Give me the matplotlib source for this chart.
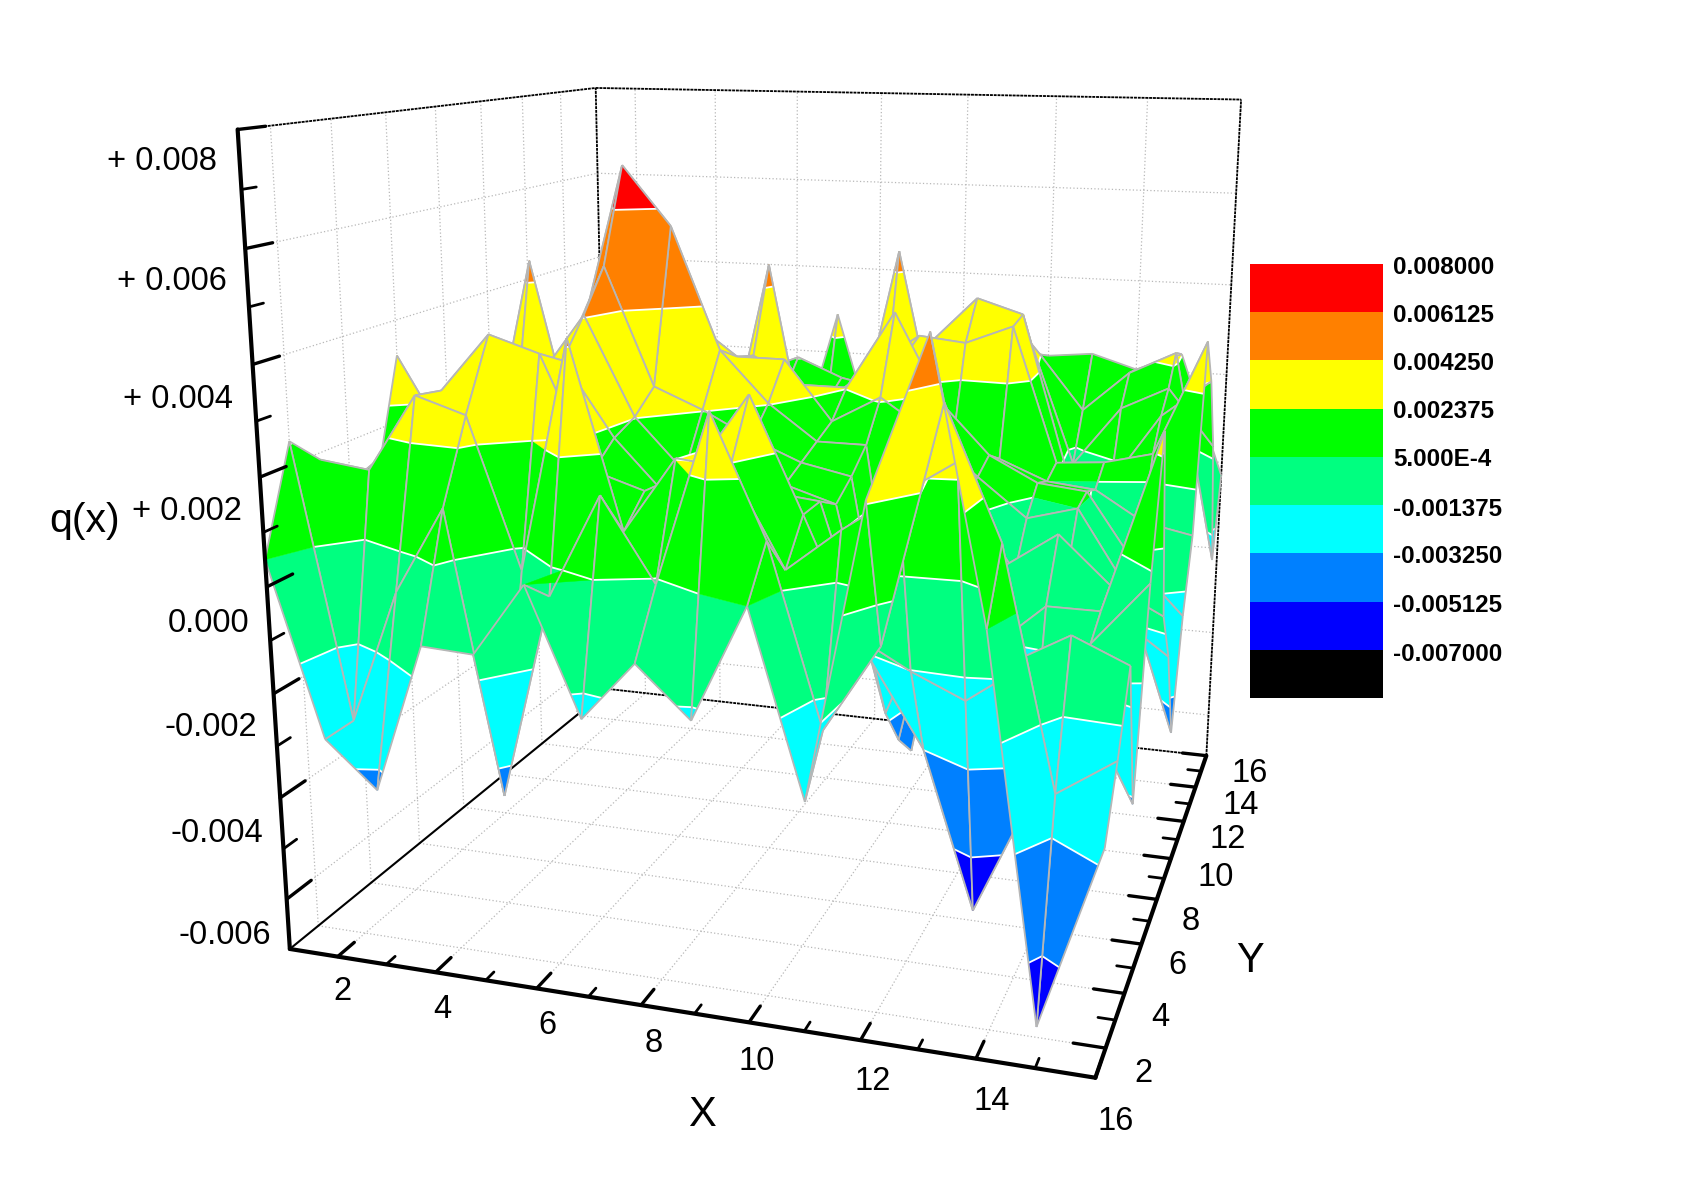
import numpy as np
import matplotlib
matplotlib.use('Agg')
import matplotlib.pyplot as plt
from mpl_toolkits.mplot3d import proj3d
from mpl_toolkits.mplot3d.art3d import Poly3DCollection, Line3DCollection

plt.rcParams['font.family'] = ['Liberation Sans', 'DejaVu Sans']

# q(x) on the 16 x 16 grid, in units of 0.001, one row per Y = 1..16
q_rows = [
    [0.5, -2.75, -3.6, -0.8, -0.85, 0.5, -1.8, -0.7, -1.6, 0.5, -2.8, 2.45, 5.2, 0.5, -6.25, -2.95],
    [2.43, -2.75, -0.2, 1.43, -3.85, 0.0, 1.9, 0.4, 3.5, 1.35, -1.9, -0.3, 3.9, 1.65, -2.55, -1.85],
    [1.87, 1.75, 3.2, 2.9, 0.1, 4.4, 1.0, 2.4, 2.3, 0.56, 1.36, 2.05, 2.7, -0.7, -0.12, -0.55],
    [1.2, 2.0, 3.1, 4.2, 3.9, 1.8, 1.5, 2.0, 3.4, 1.3, -0.86, -1.4, -1.84, -1.1, -1.5, -3.4],
    [1.0, 2.0, 2.8, 3.2, 3.6, 2.2, 1.2, 1.6, 1.4, 1.3, -1.65, -3.23, -6.3, -4.0, -0.9, 0.3],
    [3.3, 1.7, 2.6, 3.0, 4.3, 2.4, 1.4, 1.6, 1.3, 1.0, -3.0, -0.5, -1.5, -0.6, -0.6, 2.8],
    [1.2, 1.9, 2.4, 3.0, 5.1, 2.8, 2.4, 1.9, 1.5, 1.3, -3.9, 0.6, -0.2, 0.5, -0.4, -0.9],
    [1.4, 2.0, 2.6, 3.4, 6.95, 5.8, 3.4, 2.4, 1.7, 1.7, -4.5, 0.8, -0.6, -0.6, -1.3, -2.0],
    [1.6, 1.0, 2.8, 3.4, 4.0, 3.8, 3.1, 3.1, 1.9, 2.45, 1.8, 0.98, 0.22, 0.5, -1.0, -3.9],
    [0.6, 4.7, 0.8, 2.9, 3.0, 2.7, 2.95, 2.4, 2.4, 4.0, 2.2, 1.2, 0.7, 0.6, -0.8, -1.8],
    [1.8, 1.0, 2.4, 2.5, 2.6, 0.4, 4.7, 0.0, 2.0, 3.0, 1.1, 0.9, 0.5, 0.4, -0.2, -0.4],
    [1.8, 2.1, 2.2, 2.4, 2.2, 2.1, 1.8, 1.7, 2.5, 3.2, 3.1, 3.5, 0.67, 0.75, 1.0, 3.4],
    [1.6, 1.9, 2.0, 2.1, 2.0, 2.0, 2.4, 2.0, 1.8, 2.9, 3.9, 3.6, 0.4, 0.1, 1.6, 2.4],
    [1.5, 1.7, 1.8, 1.9, 1.9, 1.9, 1.6, 0.3, 4.7, 0.5, 3.0, 2.8, 0.2, 1.5, 2.0, 0.8],
    [1.4, 1.5, 1.6, 1.7, 1.7, 1.4, 0.5, 1.2, 1.0, 2.0, 2.5, 2.4, 1.2, 2.1, 2.6, -2.0],
    [1.2, 1.3, 1.5, 1.5, 1.6, -0.5, 2.9, -0.3, 1.9, 2.0, 2.1, 2.2, 2.3, 2.0, 2.4, -0.3],
]
levels = [-0.007, -0.005125, -0.00325, -0.001375, 0.0005, 0.002375, 0.00425, 0.006125, 0.008]
level_labels = ['0.008000', '0.006125', '0.004250', '0.002375', '5.000E-4',
                '-0.001375', '-0.003250', '-0.005125', '-0.007000']
band_colors = ['#0000ff', '#0080ff', '#00ffff', '#00ff80', '#00ff00', '#ffff00', '#ff8000', '#ff0000']
legend_colors = ['#ff0000', '#ff8000', '#ffff00', '#00ff00', '#00ff80', '#00ffff', '#0080ff', '#0000ff', '#000000']
z_ticks = [0.008, 0.006, 0.004, 0.002, 0.0, -0.002, -0.004, -0.006]
z_tick_labels = ['+ 0.008', '+ 0.006', '+ 0.004', '+ 0.002', '0.000', '-0.002', '-0.004', '-0.006']
xy_tick_labels = ['2', '4', '6', '8', '10', '12', '14', '16']

Q = np.array(q_rows) * 1e-3
xs = np.arange(1, 17)
ys = np.arange(1, 17)
zmin, zmax = -0.007, 0.008

fig = plt.figure(figsize=(16.96, 12), dpi=100)
ax = fig.add_axes([0.4623 - 0.5 * 1200 / 1696, 0.5755 - 0.5, 1200 / 1696, 1.0], projection='3d')
ax.set_xlim(1, 16, view_margin=0)
ax.set_ylim(1, 16, view_margin=0)
ax.set_zlim(zmin, zmax, view_margin=0)
ax.set_proj_type('persp', focal_length=0.3151)
ax.view_init(elev=13.9602, azim=-72.3497, roll=-0.1090)
ax.set_box_aspect((1, 1.0100, 0.9991), zoom=1.0543)
ax.set_axis_off()
ax.computed_zorder = False
ax.M = ax.get_proj()


def line(p, q, z=1, **kw):
    ax.plot([p[0], q[0]], [p[1], q[1]], [p[2], q[2]], zorder=z, solid_capstyle='round', **kw)


# dotted grid on the floor and the two back walls
grid = dict(color='#b8b8b8', lw=0.9, linestyle=(0, (1, 1.8)))
for v in range(2, 17, 2):
    line((v, 1, zmin), (v, 16, zmin), **grid)
    line((1, v, zmin), (16, v, zmin), **grid)
    line((v, 16, zmin), (v, 16, zmax), **grid)
    line((1, v, zmin), (1, v, zmax), **grid)
for t in z_ticks:
    line((1, 1, t), (1, 16, t), **grid)
    line((1, 16, t), (16, 16, t), **grid)

# thin box edges at the back
back = dict(color='black', lw=1.3, linestyle=(0, (1.6, 0.5)))
line((1, 16, zmin), (16, 16, zmin), **back)
line((1, 16, zmin), (1, 16, zmax), **back)
line((16, 16, zmin), (16, 16, zmax), **back)
line((1, 1, zmax), (1, 16, zmax), **back)
line((1, 16, zmax), (16, 16, zmax), **back)
line((1, 1, zmin), (1, 16, zmin), color='black', lw=1.5)


def clip_z(poly, level, keep_above):
    out = []
    for i in range(len(poly)):
        a, b = poly[i], poly[(i + 1) % len(poly)]
        ina = a[2] >= level if keep_above else a[2] <= level
        inb = b[2] >= level if keep_above else b[2] <= level
        if ina:
            out.append(a)
        if ina != inb:
            t = (level - a[2]) / (b[2] - a[2])
            out.append(tuple(a[k] + t * (b[k] - a[k]) for k in range(3)))
    return out


def contour_segments(poly, level):
    pts = []
    for i in range(4):
        a, b = poly[i], poly[(i + 1) % 4]
        if (a[2] - level) * (b[2] - level) < 0:
            t = (level - a[2]) / (b[2] - a[2])
            pts.append(tuple(a[k] + t * (b[k] - a[k]) for k in range(3)))
    return [[pts[i], pts[i + 1]] for i in range(0, len(pts) - 1, 2)]


# quads painted from far to near
quads = []
for j in range(15):
    for i in range(15):
        corners = [(xs[i], ys[j], Q[j, i]), (xs[i + 1], ys[j], Q[j, i + 1]),
                   (xs[i + 1], ys[j + 1], Q[j + 1, i + 1]), (xs[i], ys[j + 1], Q[j + 1, i])]
        c = np.array(corners)
        depth = proj3d.proj_transform(c[:, 0], c[:, 1], c[:, 2], ax.M)[2].mean()
        quads.append((depth, corners))
quads.sort(key=lambda d: -d[0])

order = 10
for depth, corners in quads:
    frags, cols = [], []
    for b in range(len(band_colors)):
        part = clip_z(clip_z(corners, levels[b], True), levels[b + 1], False)
        if len(part) >= 3:
            frags.append(part)
            cols.append(band_colors[b])
    patch = Poly3DCollection(frags, facecolors=cols, edgecolors=cols, linewidths=0.3, zorder=order)
    ax.add_collection3d(patch, autolim=False)
    segs = []
    for lev in levels[1:-1]:
        segs += contour_segments(corners, lev)
    if segs:
        ax.add_collection3d(Line3DCollection(segs, colors='white', linewidths=1.3, zorder=order + 1), autolim=False)
    mesh = [[corners[k], corners[(k + 1) % 4]] for k in range(4)]
    ax.add_collection3d(Line3DCollection(mesh, colors='#b6b6b6', linewidths=1.3, zorder=order + 2), autolim=False)
    order += 3

# heavy front axes with their ticks
axis_kw = dict(color='black', lw=3.0, z=order)
line((1, 1, zmin), (16, 1, zmin), **axis_kw)
line((16, 1, zmin), (16, 16, zmin), **axis_kw)
line((1, 1, zmin), (1, 1, zmax), **axis_kw)
for v in range(2, 17):
    major = v % 2 == 0
    line((v, 1, zmin), (v, 1 + (0.6 if major else 0.33), zmin), color='black', lw=2.4 if major else 2.0, z=order)
    line((16, v, zmin), (16 - (0.55 if major else 0.3), v, zmin), color='black', lw=2.4 if major else 2.0, z=order)
for k in range(-6, 9):
    major = k % 2 == 0
    line((1, 1, k * 1e-3), (1, 1 + (0.85 if major else 0.45), k * 1e-3), color='black', lw=2.4 if major else 2.0, z=order)


def put(px, py, text, **kw):
    fig.text(px / 1696, 1 - py / 1200, text, color='black', **kw)


# tick labels and axis titles
z_right = [217, 227, 233, 242, 249, 257, 263, 271]
z_y = [161, 282, 399, 511, 623, 728, 834, 935]
for r, yy, s in zip(z_right, z_y, z_tick_labels):
    put(r, yy, s, fontsize=23.5, ha='right', va='center')
x_pos = [(342, 992), (442, 1009), (547, 1025), (654, 1044), (757, 1062), (873, 1082), (992, 1102), (1116, 1121)]
for (px, py), s in zip(x_pos, xy_tick_labels):
    put(px, py, s, fontsize=23.5, ha='center', va='center')
y_pos = [(1143, 1074), (1160, 1018), (1177, 966), (1191, 921), (1216, 878), (1228, 840), (1241, 806), (1250, 773)]
for (px, py), s in zip(y_pos, xy_tick_labels):
    put(px, py, s, fontsize=23.5, ha='center', va='center')
put(85, 521, 'q(x)', fontsize=29.5, ha='center', va='center')
put(702, 1115, 'X', fontsize=30, ha='center', va='center')
put(1250, 961, 'Y', fontsize=30, ha='center', va='center')

# colour legend
leg = fig.add_axes([1250 / 1696, 1 - 698 / 1200, 133.3 / 1696, 434 / 1200])
leg.barh(np.arange(len(legend_colors)), np.ones(len(legend_colors)), height=1.0, color=legend_colors)
leg.set_xlim(0, 1)
leg.set_ylim(len(legend_colors) - 0.5, -0.5)
leg.axis('off')
leg_y = [267, 316, 364, 412, 460, 510, 557, 606, 655]
for yy, s in zip(leg_y, level_labels):
    put(1393, yy, s, fontsize=17.4, fontweight='bold', ha='left', va='center')

fig.savefig('out.png', dpi=100)
